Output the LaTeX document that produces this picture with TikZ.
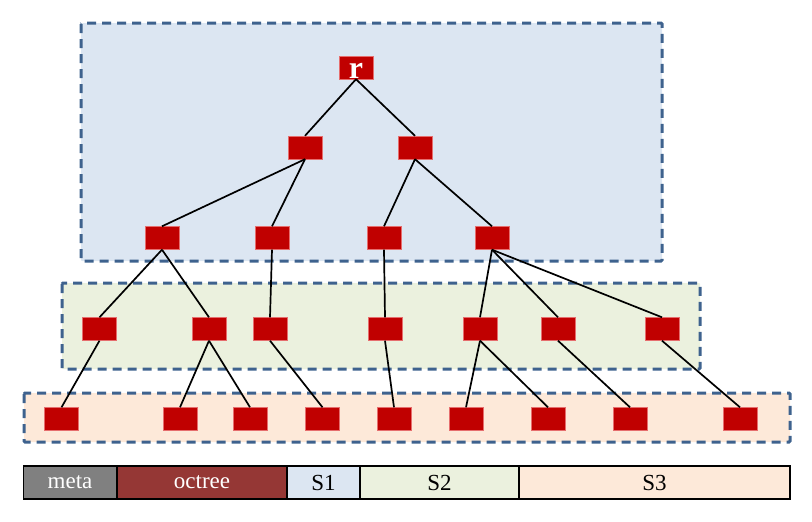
\documentclass[tikz,border=0pt]{standalone}
\usepackage{fontspec}
\setmainfont{Liberation Serif}
\definecolor{nodered}{RGB}{192,0,0}
\definecolor{nodeline}{RGB}{230,110,110}
\definecolor{dashblue}{RGB}{62,98,142}
\definecolor{fillone}{RGB}{220,230,242}
\definecolor{filltwo}{RGB}{235,241,222}
\definecolor{fillthree}{RGB}{253,233,217}
\definecolor{metagray}{RGB}{128,128,128}
\definecolor{octreered}{RGB}{149,55,53}
\tikzstyle{cell}=[rectangle,fill=nodered,draw=nodeline,line width=0.4pt,minimum width=34pt,minimum height=23pt,inner sep=0pt]
\tikzstyle{edge} = [draw,line width=1.7pt,black]
\tikzstyle{levelbox} = [draw=dashblue,line width=3pt,dash pattern=on 9pt off 6pt,rounded corners=1pt]
\tikzstyle{seg} = [rectangle,draw=black,line width=1.8pt,minimum height=33pt,inner sep=0pt,font=\fontsize{23}{25}\selectfont]

\begin{document}
\begin{tikzpicture}[x=1pt,y=-1pt]
\useasboundingbox (0,0) rectangle (812,522);
% level regions
\path[levelbox,fill=fillone] (81,23) rectangle (662,261);
\path[levelbox,fill=filltwo] (62,283) rectangle (700,369);
\path[levelbox,fill=fillthree] (24,393) rectangle (790,442);

% tree
\node[cell] (0) at (356,67.5) {};
\node[anchor=base,text=white,font=\fontsize{32}{32}\selectfont\bfseries] at (356,78) {r};
\node[cell] (1) at (305,147.5) {};
\node[cell] (2) at (415,147.5) {};

\node[cell] (3) at (162,238) {};
\node[cell] (4) at (272,238) {};
\node[cell] (5) at (384,238) {};
\node[cell] (6) at (492,238) {};

\node[cell] (7) at (99.5,329) {};
\node[cell] (8) at (209,329) {};
\node[cell] (9) at (270,329) {};
\node[cell] (10) at (385,329) {};
\node[cell] (11) at (480,329) {};
\node[cell] (12) at (558,329) {};
\node[cell] (13) at (662,329) {};

\node[cell] (14) at (61.5,419) {};
\node[cell] (15) at (180,419) {};
\node[cell] (16) at (250,419) {};
\node[cell] (17) at (322.5,419) {};
\node[cell] (18) at (394,419) {};
\node[cell] (19) at (466,419) {};
\node[cell] (20) at (548,419) {};
\node[cell] (21) at (630,419) {};
\node[cell] (22) at (740,419) {};

 \path[edge] (0.south) -- (1.north);
 \path[edge] (0.south) -- (2.north);
 \path[edge] (1.south) -- (3.north);
 \path[edge] (1.south) -- (4.north);
 \path[edge] (2.south) -- (5.north);
 \path[edge] (2.south) -- (6.north);

 \path[edge] (3.south) -- (7.north);
 \path[edge] (3.south) -- (8.north);
 \path[edge] (4.south) -- (9.north);
 \path[edge] (5.south) -- (10.north);
 \path[edge] (6.south) -- (11.north);
 \path[edge] (6.south) -- (12.north);
 \path[edge] (6.south) -- (13.north);

 \path[edge] (7.south) -- (14.north);
 \path[edge] (8.south) -- (15.north);
 \path[edge] (8.south) -- (16.north);
 \path[edge] (9.south) -- (17.north);
 \path[edge] (10.south) -- (18.north);
 \path[edge] (11.south) -- (19.north);
 \path[edge] (11.south) -- (20.north);
 \path[edge] (12.south) -- (21.north);
 \path[edge] (13.south) -- (22.north);

% file layout bar
\node[seg,fill=metagray,text=white,minimum width=93pt] (meta) at (70,482.5) {meta};
\node[seg,fill=octreered,text=white,minimum width=170pt] (octree) at (202,482.5) {octree};
\node[seg,fill=fillone,minimum width=73pt] (s1) at (323.5,482.5) {S1};
\node[seg,fill=filltwo,minimum width=159pt] (s2) at (439.5,482.5) {S2};
\node[seg,fill=fillthree,minimum width=271pt] (s3) at (654.5,482.5) {S3};
\end{tikzpicture}
\end{document}
